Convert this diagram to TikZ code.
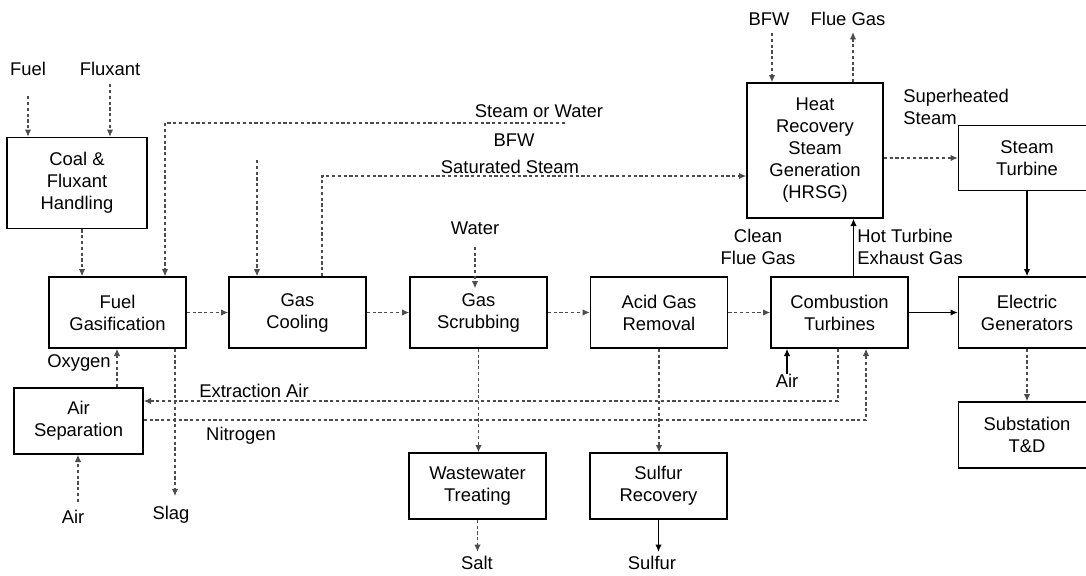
\documentclass[tikz,border=0pt]{standalone}
\usepackage{fontspec}
\setmainfont{Liberation Sans}
\usetikzlibrary{arrows.meta}
\usetikzlibrary{calc}

\begin{document}
\begin{tikzpicture}[x=0.5pt, y=-0.5pt, font=\fontsize{9.2}{11}\selectfont,
	unit/.style={draw, line width=0.8pt, minimum width=68.5pt, minimum height=35.5pt, align=center, inner sep=1pt},
	flow/.style={line width=0.55pt, black!70, dash pattern=on 1.6pt off 1.3pt, -{Latex[length=3.6pt,width=3.2pt]}},
	solidflow/.style={line width=0.6pt, -{Latex[length=3.6pt,width=3.2pt]}},
	lbl/.style={align=center, inner sep=0pt}]
	\useasboundingbox (0,0) rectangle (1086,575);
	\fill[white] (0,0) rectangle (1086,575);

	% process units
	\node[unit, minimum width=70pt, minimum height=45.5pt] (coal) at (77,183) {Coal \&\\Fluxant\\Handling};
	\node[unit] (gasif) at (117.5,312.5) {Fuel\\Gasification};
	\node[unit] (cool) at (297.5,312.5) {Gas\\Cooling};
	\node[unit] (scrub) at (478.5,312.5) {Gas\\Scrubbing};
	\node[unit] (agr) at (659,312.5) {Acid Gas\\Removal};
	\node[unit] (ct) at (839.5,312.5) {Combustion\\Turbines};
	\node[unit] (gen) at (1027,312.5) {Electric\\Generators};
	\node[unit, minimum height=33pt] (subst) at (1027,435) {Substation\\T\&D};
	\node[unit, minimum height=32.5pt] (st) at (1027,158) {Steam\\Turbine};
	\node[unit, minimum width=68pt, minimum height=67.5pt] (hrsg) at (815,150.5) {Heat\\Recovery\\Steam\\Generation\\(HRSG)};
	\node[unit, minimum width=64.5pt, minimum height=33pt] (asu) at (78.5,421) {Air\\Separation};
	\node[unit, minimum height=33pt] (wwt) at (477.5,486) {Wastewater\\Treating};
	\node[unit, minimum height=33pt] (srec) at (658.5,486) {Sulfur\\Recovery};

	% stream labels
	\node[lbl] (fuel) at (28,69) {Fuel};
	\node[lbl] (fluxant) at (110,69) {Fluxant};
	\node[lbl] (sw) at (539,111) {Steam or Water};
	\node[lbl] (bfw) at (514,140) {BFW};
	\node[lbl] (sat) at (510,167) {Saturated Steam};
	\node[lbl] (bfwtop) at (769,19) {BFW};
	\node[lbl] (flue) at (848,19) {Flue Gas};
	\node[lbl, anchor=west, align=left] (shs) at (903,107) {Superheated\\Steam};
	\node[lbl] (water) at (475,228) {Water};
	\node[lbl] (clean) at (758,247) {Clean\\Flue Gas};
	\node[lbl, anchor=west, align=left] (hot) at (857,247) {Hot Turbine\\Exhaust Gas};
	\node[lbl] (oxy) at (79,363) {Oxygen};
	\node[lbl] (extr) at (254,391) {Extraction Air};
	\node[lbl] (nitro) at (241,436) {Nitrogen};
	\node[lbl] (airct) at (787,381) {Air};
	\node[lbl] (airasu) at (73,517) {Air};
	\node[lbl] (slag) at (171,515) {Slag};
	\node[lbl] (salt) at (477,563) {Salt};
	\node[lbl] (sulfur) at (652,563) {Sulfur};

	\coordinate (swend) at (565,123);
	\coordinate (bfwend) at (257,160);

	% feeds
	\draw[flow] ([yshift=-10pt]fuel.south) -- (fuel.south |- coal.north);
	\draw[flow] ([yshift=-4pt]fluxant.south) -- (fluxant.south |- coal.north);
	\draw[flow] ([xshift=2.5pt]coal.south) -- ([xshift=2.5pt]coal.south |- gasif.north);
	\draw[flow] (swend) -- (165,123) -- (165,0 |- gasif.north);
	\draw[flow] (bfwend) -- (bfwend |- cool.north);
	\draw[flow] (322,0 |- cool.north) -- (322,176) -- (hrsg.west |- 0,176);

	% main gas path
	\draw[flow] (gasif) -- (cool);
	\draw[flow] (cool) -- (scrub);
	\draw[flow] (scrub) -- (agr);
	\draw[flow] (agr) -- (ct);
	\draw[solidflow] (ct) -- (gen);
	\draw[flow] ([yshift=-6pt]water.south) -- ([yshift=-6pt]water.south |- scrub.north);

	% steam cycle
	\draw[solidflow] ([xshift=7pt]ct.north) -- ([xshift=7pt]ct.north |- hrsg.south);
	\draw[flow] (772,33) -- (772,0 |- hrsg.north);
	\draw[flow] ([xshift=19pt]hrsg.north) -- ([xshift=19pt,yshift=-3pt]hrsg.north |- flue.south);
	\draw[flow] (hrsg.east |- st.west) -- (st.west);
	\draw[solidflow] (st) -- (gen);
	\draw[flow] (gen) -- (subst);

	% air separation
	\draw[flow] (117,0 |- asu.north) -- (117,0 |- gasif.south);
	\draw[flow] (78,502) -- (78,0 |- asu.south);
	\draw[flow] (175,0 |- gasif.south) -- ([yshift=5pt]175,0 |- slag.north);
	\draw[flow] (838,0 |- ct.south) -- (838,401) -- (asu.east |- 0,401);
	\draw[flow] (asu.east |- 0,420) -- (866,420) -- (866,0 |- ct.south);
	\draw[solidflow] (airct.north) -- (airct.north |- ct.south);

	% cleanup
	\draw[flow] (scrub.south) -- (scrub.south |- wwt.north);
	\draw[flow] (agr.south) -- (agr.south |- srec.north);
	\draw[flow] (wwt.south) -- ([yshift=2pt]wwt.south |- salt.north);
	\draw[solidflow] (srec.south) -- ([yshift=2pt]srec.south |- sulfur.north);
\end{tikzpicture}
\end{document}
